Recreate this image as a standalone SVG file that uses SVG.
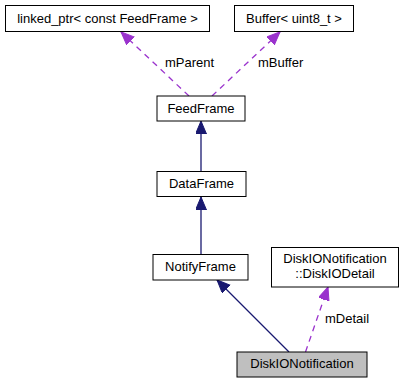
<svg xmlns="http://www.w3.org/2000/svg" width="407" height="383" viewBox="0 0 407 383">
  <style>
    .box { fill: #ffffff; stroke: #000000; stroke-width: 1; }
    .cur { fill: #bfbfbf; stroke: #000000; stroke-width: 1; }
    .lbl { font-family: "Liberation Sans", Arial, sans-serif; font-size: 13px; fill: #000000; text-anchor: middle; }
    .elbl { font-family: "Liberation Sans", Arial, sans-serif; font-size: 13px; fill: #000000; }
    .inh { stroke: #191970; stroke-width: 1.3; fill: none; marker-end: url(#navyHead); }
    .use { stroke: #9a32cd; stroke-width: 1.3; fill: none; stroke-dasharray: 6,5; marker-end: url(#purpleHead); }
  </style>
  <defs>
    <marker id="navyHead" markerUnits="userSpaceOnUse" markerWidth="14" markerHeight="12" refX="13" refY="5.5" orient="auto">
      <path d="M0,0 L13,5.5 L0,11 z" fill="#191970" stroke="#191970" stroke-width="1"/>
    </marker>
    <marker id="purpleHead" markerUnits="userSpaceOnUse" markerWidth="14" markerHeight="12" refX="13" refY="5.5" orient="auto">
      <path d="M0,0 L13,5.5 L0,11 z" fill="#9a32cd" stroke="#9a32cd" stroke-width="1"/>
    </marker>
  </defs>

  <!-- connectors -->
  <g id="edges">
    <line class="use" x1="189" y1="96" x2="121" y2="32"/>
    <text class="elbl" x="165" y="67">mParent</text>
    <line class="use" x1="212" y1="96" x2="280" y2="32"/>
    <text class="elbl" x="258" y="67">mBuffer</text>
    <line class="inh" x1="201" y1="171" x2="201" y2="121"/>
    <line class="inh" x1="201" y1="254" x2="201" y2="197"/>
    <line class="inh" x1="289" y1="352" x2="217" y2="280"/>
    <line class="use" x1="305.5" y1="352" x2="328" y2="287"/>
    <text class="elbl" x="325" y="323">mDetail</text>
  </g>

  <g id="node-linked_ptr">
    <rect class="box" x="5.5" y="5.5" width="204" height="26"/>
    <text class="lbl" x="107.5" y="22.5">linked_ptr&lt; const FeedFrame &gt;</text>
  </g>
  <g id="node-buffer">
    <rect class="box" x="234.5" y="5.5" width="119" height="26"/>
    <text class="lbl" x="294" y="22.5">Buffer&lt; uint8_t &gt;</text>
  </g>
  <g id="node-feedframe">
    <rect class="box" x="157" y="96" width="88" height="25"/>
    <text class="lbl" x="201" y="112.5">FeedFrame</text>
  </g>
  <g id="node-dataframe">
    <rect class="box" x="157" y="171.5" width="89" height="25"/>
    <text class="lbl" x="201.5" y="187.5">DataFrame</text>
  </g>
  <g id="node-notifyframe">
    <rect class="box" x="153" y="254.5" width="95" height="25.5"/>
    <text class="lbl" x="200.5" y="271">NotifyFrame</text>
  </g>
  <g id="node-diskiodetail">
    <rect class="box" x="271.5" y="247.5" width="127" height="39.5"/>
    <text class="lbl" x="335" y="263">DiskIONotification</text>
    <text class="lbl" x="335" y="277.5">::DiskIODetail</text>
  </g>
  <g id="node-diskionotification">
    <rect class="cur" x="237" y="352" width="130" height="25"/>
    <text class="lbl" x="302" y="368">DiskIONotification</text>
  </g>
</svg>
